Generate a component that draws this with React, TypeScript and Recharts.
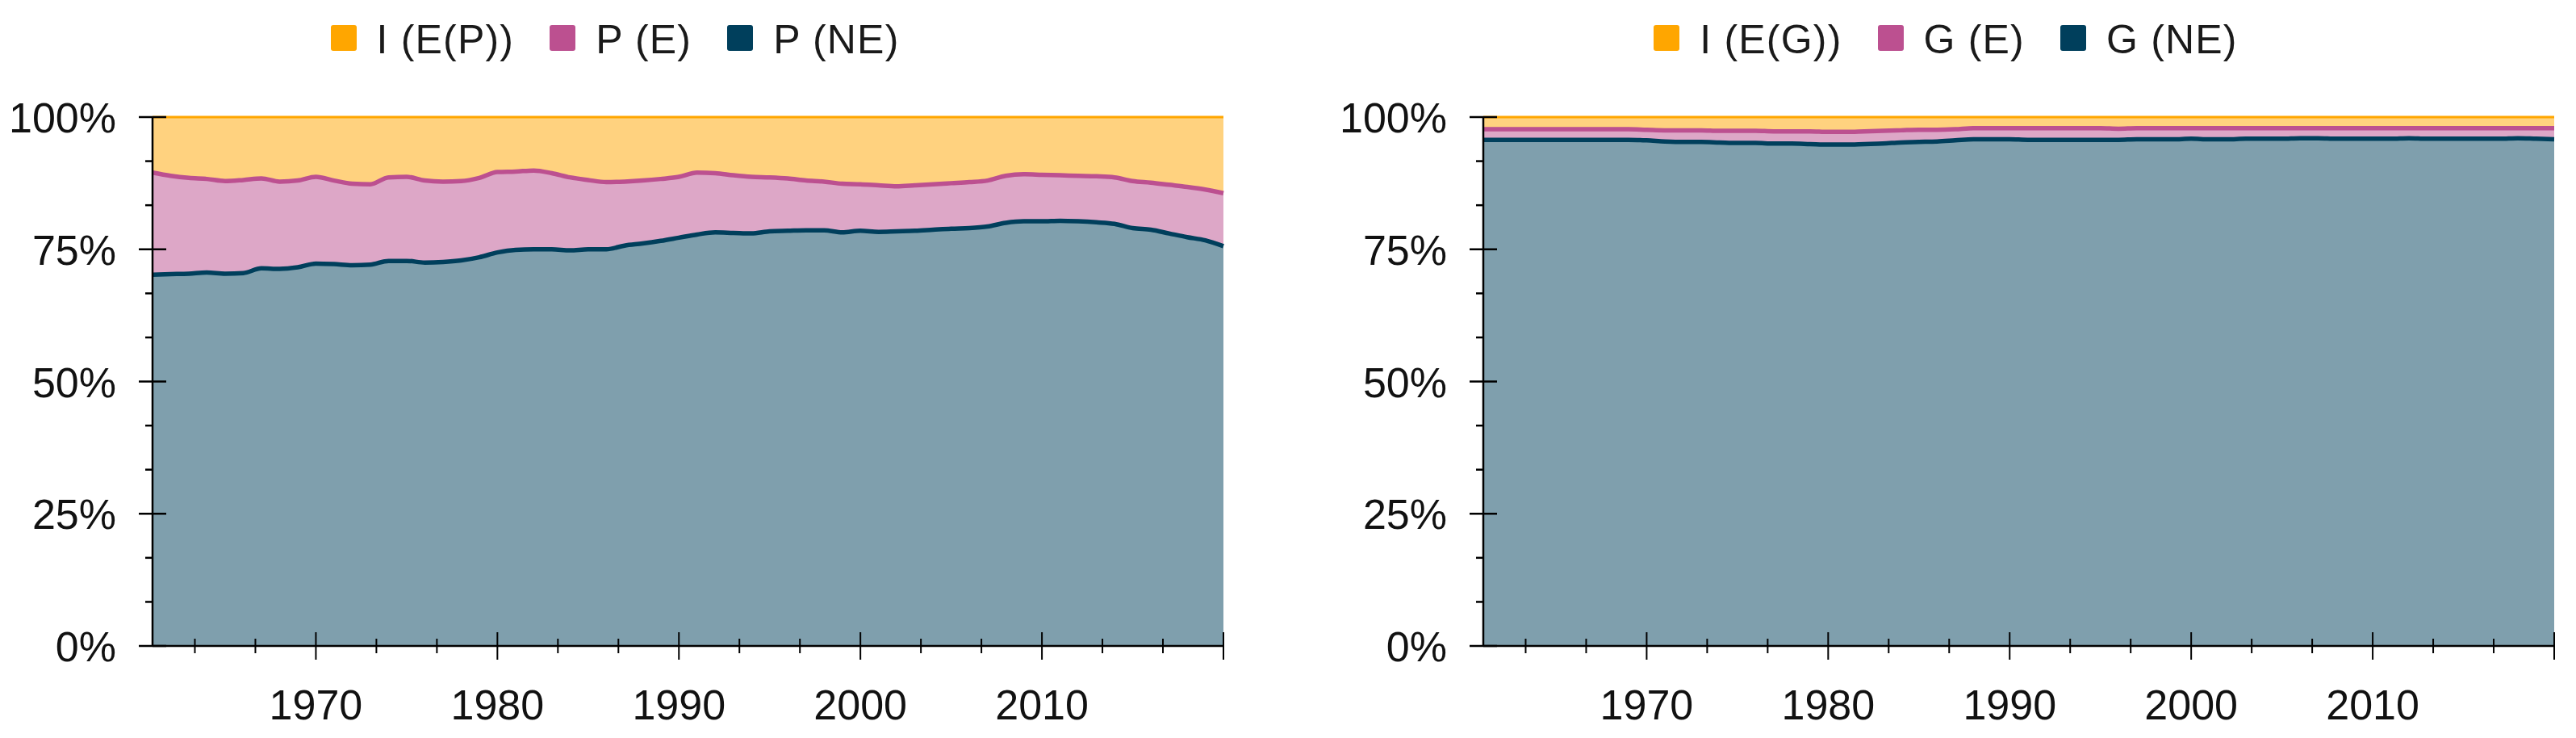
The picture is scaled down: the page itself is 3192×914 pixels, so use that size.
import { Area, AreaChart, Legend, XAxis, YAxis } from "recharts";

const years = [
  1961, 1962, 1963, 1964, 1965, 1966, 1967, 1968, 1969, 1970,
  1971, 1972, 1973, 1974, 1975, 1976, 1977, 1978, 1979, 1980,
  1981, 1982, 1983, 1984, 1985, 1986, 1987, 1988, 1989, 1990,
  1991, 1992, 1993, 1994, 1995, 1996, 1997, 1998, 1999, 2000,
  2001, 2002, 2003, 2004, 2005, 2006, 2007, 2008, 2009, 2010,
  2011, 2012, 2013, 2014, 2015, 2016, 2017, 2018, 2019, 2020,
];

// left panel, shares in %
const pNE = [
  70.2, 70.3, 70.4, 70.6, 70.4, 70.5, 71.4, 71.3, 71.6, 72.3,
  72.2, 72.0, 72.1, 72.8, 72.8, 72.5, 72.6, 72.9, 73.5, 74.4,
  74.9, 75.0, 75.0, 74.8, 75.0, 75.0, 75.7, 76.1, 76.6, 77.2,
  77.8, 78.2, 78.1, 78.0, 78.4, 78.5, 78.6, 78.6, 78.2, 78.5,
  78.3, 78.4, 78.5, 78.7, 78.9, 79.0, 79.3, 80.0, 80.3, 80.3,
  80.4, 80.3, 80.1, 79.8, 79.0, 78.7, 78.0, 77.3, 76.7, 75.6,
];
const pE = [
  19.3, 18.6, 18.1, 17.7, 17.5, 17.6, 17.0, 16.5, 16.4, 16.4,
  15.8, 15.4, 15.2, 15.8, 15.9, 15.5, 15.2, 15.0, 15.0, 15.2,
  14.8, 14.9, 14.4, 13.8, 13.1, 12.7, 12.1, 11.9, 11.7, 11.5,
  11.7, 11.2, 10.9, 10.7, 10.2, 9.9, 9.4, 9.2, 9.2, 8.8,
  8.8, 8.5, 8.6, 8.6, 8.6, 8.7, 8.7, 8.9, 8.9, 8.8,
  8.6, 8.6, 8.7, 8.8, 8.9, 8.9, 9.2, 9.5, 9.6, 10.0,
];
const pI = [
  10.5, 11.1, 11.5, 11.7, 12.1, 11.9, 11.6, 12.2, 12.0, 11.3,
  12.0, 12.6, 12.7, 11.4, 11.3, 12.0, 12.2, 12.1, 11.5, 10.4,
  10.3, 10.1, 10.6, 11.4, 11.9, 12.3, 12.2, 12.0, 11.7, 11.3,
  10.5, 10.6, 11.0, 11.3, 11.4, 11.6, 12.0, 12.2, 12.6, 12.7,
  12.9, 13.1, 12.9, 12.7, 12.5, 12.3, 12.0, 11.1, 10.8, 10.9,
  11.0, 11.1, 11.2, 11.4, 12.1, 12.4, 12.8, 13.2, 13.7, 14.4,
];

// right panel, shares in %
const gNE = [
  95.7, 95.7, 95.7, 95.7, 95.7, 95.7, 95.7, 95.7, 95.7, 95.6,
  95.4, 95.3, 95.3, 95.2, 95.1, 95.1, 95.0, 95.0, 94.9, 94.8,
  94.8, 94.9, 95.0, 95.2, 95.3, 95.4, 95.6, 95.8, 95.8, 95.8,
  95.7, 95.7, 95.7, 95.7, 95.7, 95.7, 95.8, 95.8, 95.8, 95.9,
  95.8, 95.8, 95.9, 95.9, 95.9, 96.0, 96.0, 95.9, 95.9, 95.9,
  95.9, 96.0, 95.9, 95.9, 95.9, 95.9, 95.9, 96.0, 95.9, 95.8,
];
const gE = [
  2.0, 2.0, 2.0, 2.0, 2.0, 2.0, 2.0, 2.0, 2.0, 2.0,
  2.1, 2.2, 2.2, 2.2, 2.3, 2.3, 2.3, 2.3, 2.4, 2.4,
  2.4, 2.4, 2.4, 2.3, 2.3, 2.2, 2.1, 2.1, 2.1, 2.1,
  2.2, 2.2, 2.2, 2.2, 2.2, 2.1, 2.1, 2.1, 2.1, 2.0,
  2.1, 2.1, 2.0, 2.0, 2.0, 1.9, 1.9, 2.0, 2.0, 2.0,
  2.0, 1.9, 2.0, 2.0, 2.0, 2.0, 2.0, 1.9, 2.0, 2.1,
];
const gI = [
  2.3, 2.3, 2.3, 2.3, 2.3, 2.3, 2.3, 2.3, 2.3, 2.4,
  2.5, 2.5, 2.5, 2.6, 2.6, 2.6, 2.7, 2.7, 2.7, 2.8,
  2.8, 2.7, 2.6, 2.5, 2.4, 2.4, 2.3, 2.1, 2.1, 2.1,
  2.1, 2.1, 2.1, 2.1, 2.1, 2.2, 2.1, 2.1, 2.1, 2.1,
  2.1, 2.1, 2.1, 2.1, 2.1, 2.1, 2.1, 2.1, 2.1, 2.1,
  2.1, 2.1, 2.1, 2.1, 2.1, 2.1, 2.1, 2.1, 2.1, 2.1,
];

const leftNames = ["I (E(P))", "P (E)", "P (NE)"];
const rightNames = ["I (E(G))", "G (E)", "G (NE)"];

const majorYears = [1960, 1970, 1980, 1990, 2000, 2010, 2020];
const labelYears = [1970, 1980, 1990, 2000, 2010];
const xTicks = majorYears
  .flatMap((m) => [m, m + 10 / 3, m + 20 / 3])
  .filter((t) => t >= 1961 && t <= 2020);
const yTicks = [0, 1, 2, 3, 4, 5, 6, 7, 8, 9, 10, 11, 12].map((k) => k / 12);

const ORANGE = "#ffa600";
const MAGENTA = "#bc5090";
const NAVY = "#003f5c";
const FONT = "'Liberation Sans', Arial, sans-serif";

const XTick = (props: any) => {
  const { x, y, payload } = props;
  const v = payload.value;
  const major = majorYears.some((m) => Math.abs(m - v) < 0.01);
  const label = labelYears.find((m) => Math.abs(m - v) < 0.01);
  return (
    <g>
      <line
        x1={x}
        x2={x}
        y1={major ? y - 17 : y - 9}
        y2={major ? y + 17 : y + 9}
        stroke="#000"
        strokeWidth={2}
      />
      {label !== undefined && (
        <text x={x} y={y + 91} textAnchor="middle" fontFamily={FONT} fontSize={52} fill="#111">
          {label}
        </text>
      )}
    </g>
  );
};

const YTick = (props: any) => {
  const { x, y, payload } = props;
  const v = payload.value;
  const major = Math.abs(v * 4 - Math.round(v * 4)) < 1e-6;
  return (
    <g>
      <line
        x1={major ? x - 17 : x - 9}
        x2={major ? x + 17 : x}
        y1={y}
        y2={y}
        stroke="#000"
        strokeWidth={2.5}
      />
      {major && (
        <text x={x - 45} y={y + 19} textAnchor="end" fontFamily={FONT} fontSize={52} fill="#111">
          {Math.round(v * 100)}%
        </text>
      )}
    </g>
  );
};

function legendContent(names: string[]) {
  const colors = [ORANGE, MAGENTA, NAVY];
  return () => (
    <div
      style={{
        height: 127,
        boxSizing: "border-box",
        paddingTop: 12,
        display: "flex",
        justifyContent: "center",
        fontFamily: FONT,
        fontSize: 50,
        letterSpacing: 1.2,
        color: "#1a1a1a",
      }}
    >
      {names.map((name, i) => (
        <div
          key={name}
          style={{ display: "flex", alignItems: "center", height: 34, marginLeft: i ? 44 : 0 }}
        >
          <span
            style={{
              display: "inline-block",
              width: 32,
              height: 32,
              borderRadius: 3,
              background: colors[i],
              marginRight: 25,
            }}
          />
          <span style={{ lineHeight: "34px", paddingTop: 3 }}>{name}</span>
        </div>
      ))}
    </div>
  );
}

function ShareChart({ ne, e, imp, names }: { ne: number[]; e: number[]; imp: number[]; names: string[] }) {
  const data = years.map((year, k) => ({ year, ne: ne[k], e: e[k], imp: imp[k] }));
  return (
    <AreaChart
      width={1511}
      height={900}
      data={data}
      stackOffset="expand"
      margin={{ top: 10, right: 3, bottom: 0, left: 0 }}
    >
      <Legend verticalAlign="top" align="center" content={legendContent(names)} />
      <XAxis
        dataKey="year"
        type="number"
        domain={[1961, 2020]}
        ticks={xTicks}
        interval={0}
        height={108}
        tickSize={0}
        tickMargin={0}
        tickLine={false}
        axisLine={{ stroke: "#000", strokeWidth: 2.5 }}
        tick={<XTick />}
      />
      <YAxis
        type="number"
        domain={[0, 1]}
        ticks={yTicks}
        interval={0}
        width={181}
        tickSize={0}
        tickMargin={0}
        tickLine={false}
        axisLine={{ stroke: "#000", strokeWidth: 2.5 }}
        tick={<YTick />}
      />
      {/* fills */}
      <Area type="monotone" dataKey="ne" stackId="fill" stroke="none" fill={NAVY} fillOpacity={0.5} isAnimationActive={false} />
      <Area type="monotone" dataKey="e" stackId="fill" stroke="none" fill={MAGENTA} fillOpacity={0.5} isAnimationActive={false} />
      <Area type="monotone" dataKey="imp" stackId="fill" stroke="none" fill={ORANGE} fillOpacity={0.5} isAnimationActive={false} />
      {/* outlines on top */}
      <Area type="monotone" dataKey="ne" stackId="line" stroke={NAVY} strokeWidth={5.5} fill="none" isAnimationActive={false} />
      <Area type="monotone" dataKey="e" stackId="line" stroke={MAGENTA} strokeWidth={5.5} fill="none" isAnimationActive={false} />
      <Area type="monotone" dataKey="imp" stackId="line" stroke={ORANGE} strokeWidth={3} fill="none" isAnimationActive={false} />
    </AreaChart>
  );
}

export default function App() {
  return (
    <div style={{ display: "flex", background: "#fff" }}>
      <ShareChart ne={pNE} e={pE} imp={pI} names={leftNames} />
      <div style={{ width: 138, flex: "none" }} />
      <ShareChart ne={gNE} e={gE} imp={gI} names={rightNames} />
    </div>
  );
}
